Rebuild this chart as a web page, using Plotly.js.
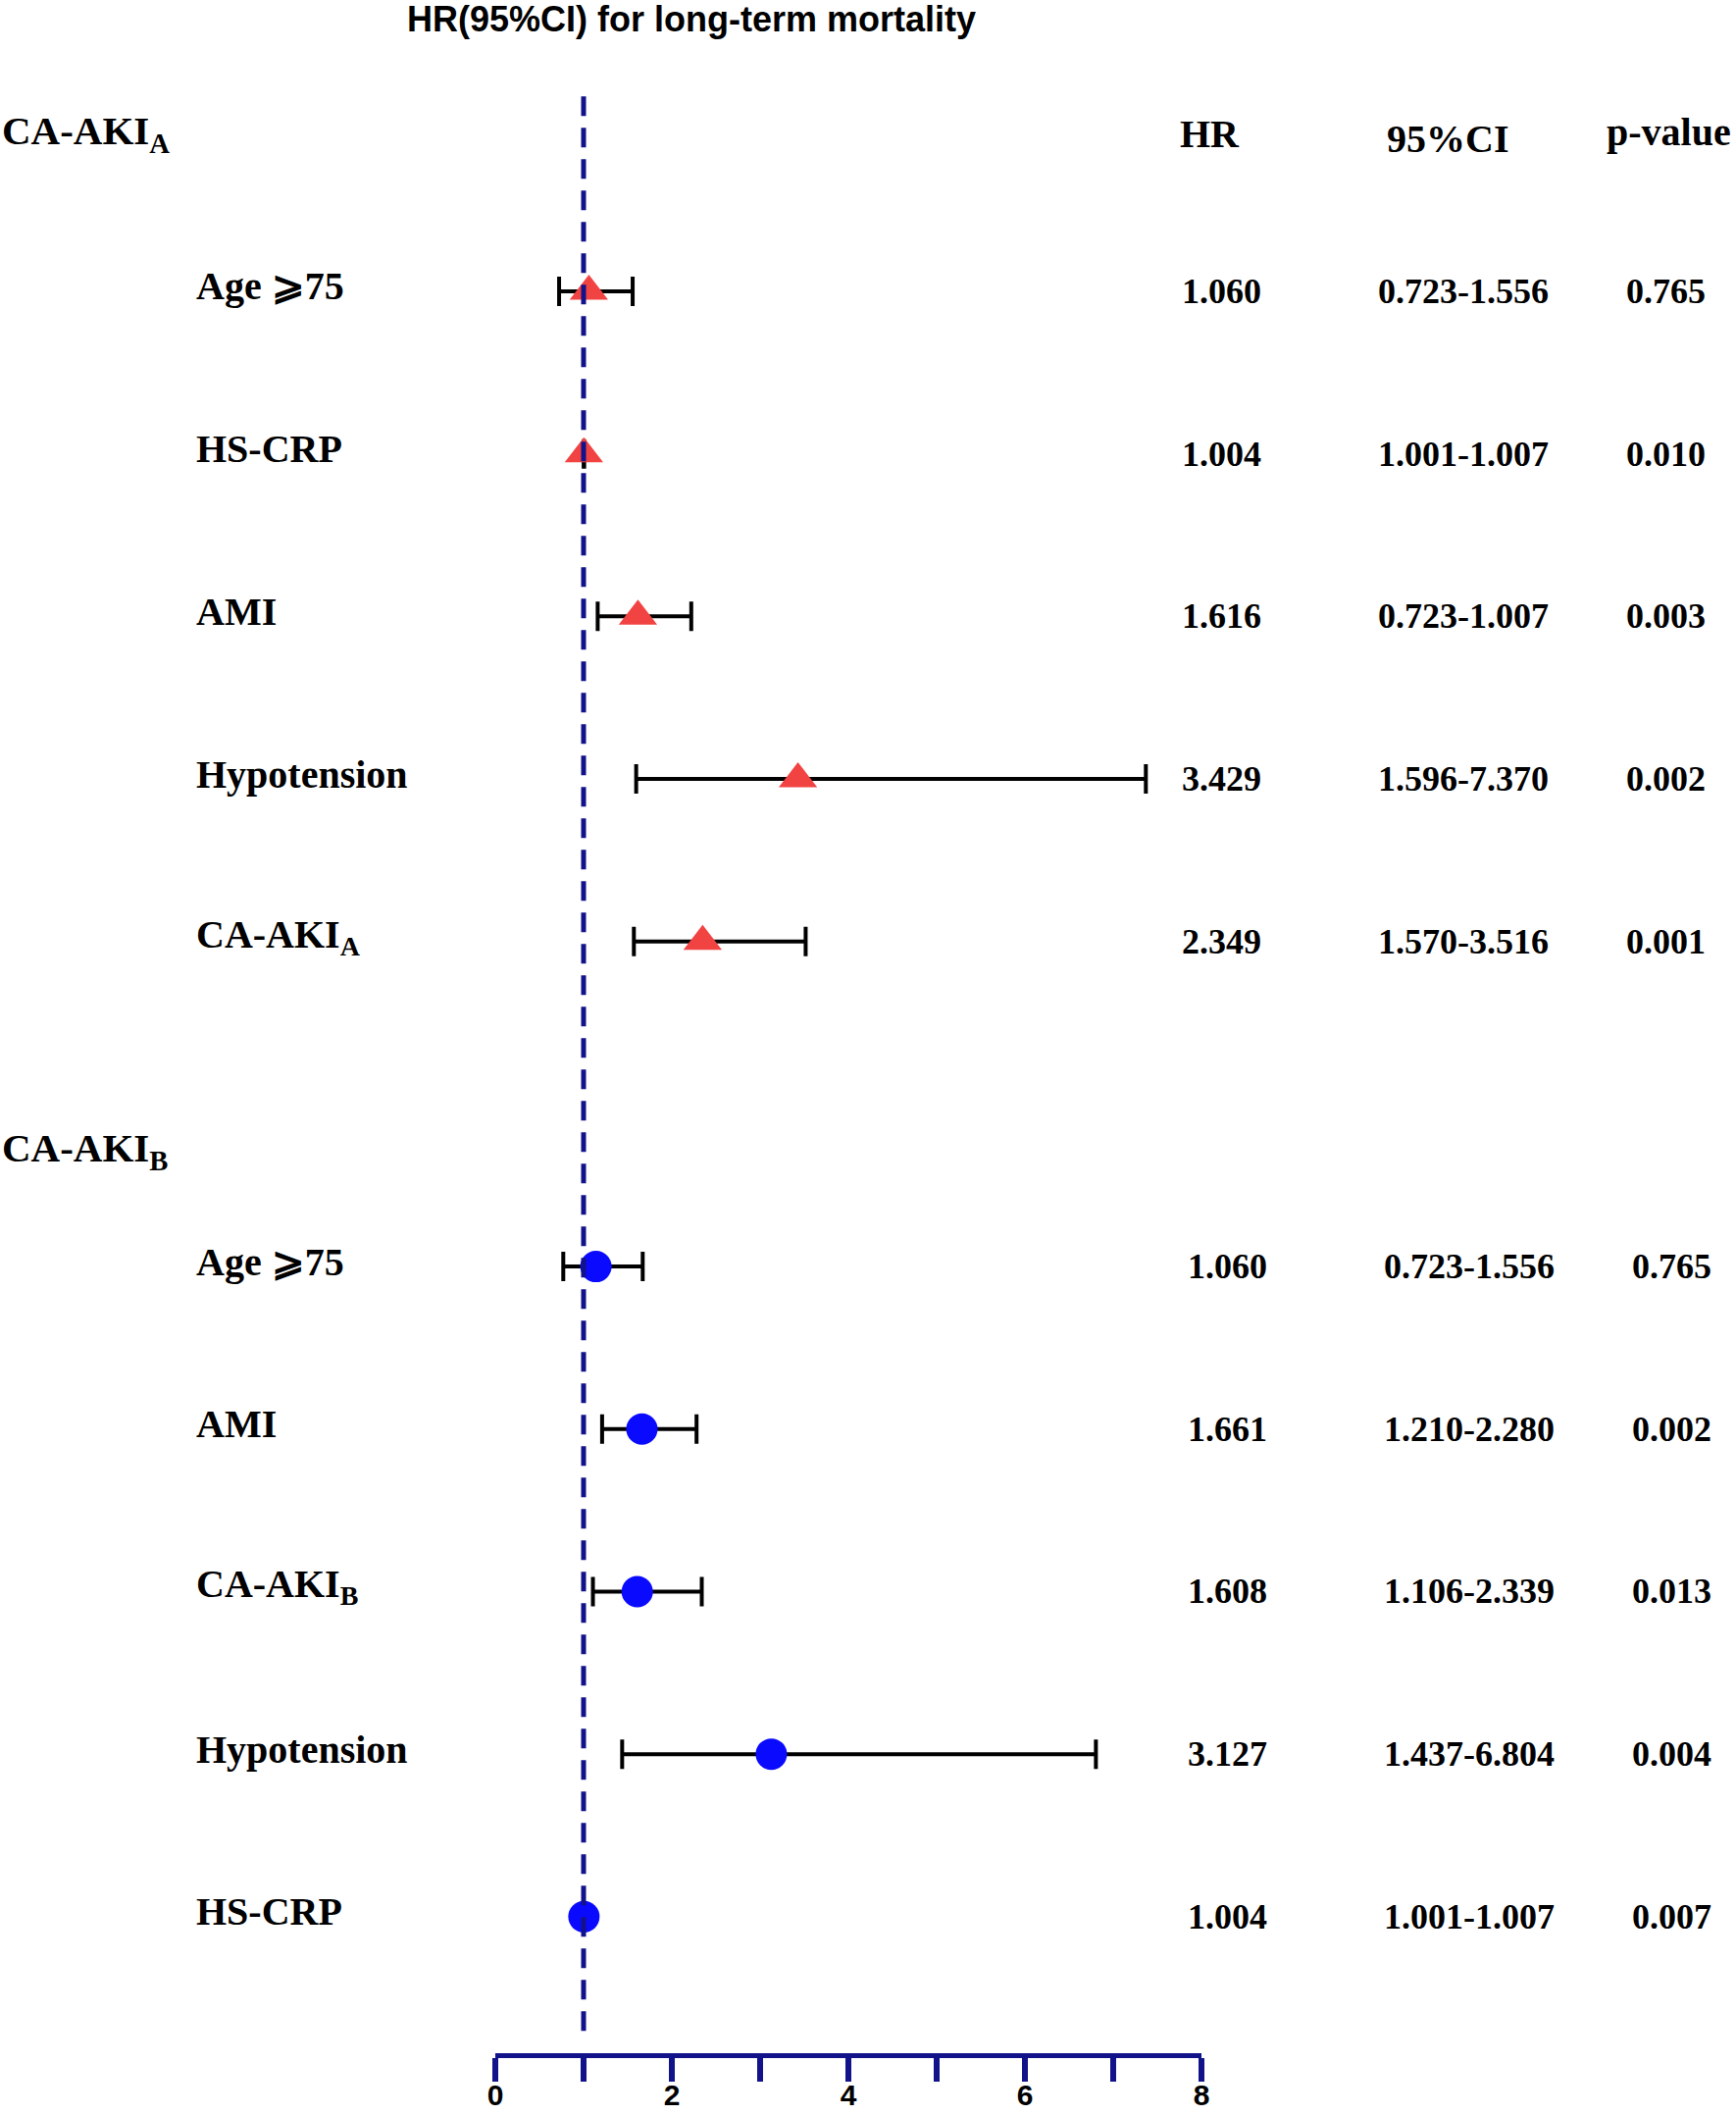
<!DOCTYPE html>
<html>
<head>
<meta charset="utf-8">
<script src="https://cdn.plot.ly/plotly-3.0.1.min.js"></script>
<style>html,body{margin:0;padding:0;background:#fff;}</style>
</head>
<body>
<div id="chart" style="width:1770px;height:2156px;"></div>
<script>
// ---------- data ----------
const groupNames = ['CA-AKI<sub>A</sub>', 'CA-AKI<sub>B</sub>'];

const labelsA = ['Age \u2A7E75', 'HS-CRP', 'AMI', 'Hypotension', 'CA-AKI<sub>A</sub>'];
const hrA     = [1.060, 1.004, 1.616, 3.429, 2.349];
const lowA    = [0.723, 1.001, 1.16, 1.596, 1.570];
const highA   = [1.556, 1.007, 2.22, 7.370, 3.516];
const hrTextA = ['1.060', '1.004', '1.616', '3.429', '2.349'];
const ciTextA = ['0.723-1.556', '1.001-1.007', '0.723-1.007', '1.596-7.370', '1.570-3.516'];
const pTextA  = ['0.765', '0.010', '0.003', '0.002', '0.001'];

const labelsB = ['Age \u2A7E75', 'AMI', 'CA-AKI<sub>B</sub>', 'Hypotension', 'HS-CRP'];
const hrB     = [1.14, 1.661, 1.608, 3.127, 1.004];
const lowB    = [0.77, 1.210, 1.106, 1.437, 1.001];
const highB   = [1.67, 2.280, 2.339, 6.804, 1.007];
const hrTextB = ['1.060', '1.661', '1.608', '3.127', '1.004'];
const ciTextB = ['0.723-1.556', '1.210-2.280', '1.106-2.339', '1.437-6.804', '1.001-1.007'];
const pTextB  = ['0.765', '0.002', '0.013', '0.004', '0.007'];

const columnHeaders = ['HR', '95%CI', 'p-value'];
const majorTicks = [0, 2, 4, 6, 8];
const minorTickStep = 1;
const refHR = 1;
const chartTitle = 'HR(95%CI) for long-term mortality';

// ---------- layout helpers ----------
const W = 1770, H = 2156;
const mL = 505, mR = 545, mT = 7, mB = 63;
const plotW = W - mL - mR;
const px = v => (v - mL) / plotW;          // pixel x -> paper x

const rowsA = labelsA.map((_, i) => i);
const rowsB = labelsB.map((_, i) => i + 6);
const headerRowA = -0.97, headerRowB = 5.29;

const serif = 'Liberation Serif, Times New Roman, serif';
const sans = 'Liberation Sans, Arial, sans-serif';
const navy = '#12128a';

function errTrace(x, lo, hi, y, sym, size, color) {
  return {
    type: 'scatter', mode: 'markers', x: x, y: y,
    marker: {symbol: sym, size: size, color: color, line: {width: 0}},
    error_x: {
      type: 'data', symmetric: false,
      array: hi.map((h, i) => h - x[i]),
      arrayminus: lo.map((l, i) => x[i] - l),
      color: '#000', thickness: 4, width: 15
    },
    showlegend: false, hoverinfo: 'skip', cliponaxis: false
  };
}

const traces = [
  errTrace(hrA, lowA, highA, rowsA, 'triangle-up', 34, '#f24343'),
  errTrace(hrB, lowB, highB, rowsB, 'circle', 32, '#0a0aff')
];

const ann = [];
function txt(x, y, text, size, anchor) {
  ann.push({xref: 'paper', yref: 'y', x: x, y: y, text: '<b>' + text + '</b>',
    showarrow: false, xanchor: anchor || 'left', yanchor: 'middle',
    font: {family: serif, size: size, color: '#000'}});
}
// group headers
txt(px(0), headerRowA, groupNames[0], 41);
txt(px(0), headerRowB, groupNames[1], 41);
// column headers
txt(px(1233), headerRowA, columnHeaders[0], 40, 'center');
txt(px(1476), headerRowA + 0.03, columnHeaders[1], 40, 'center');
txt(px(1701), headerRowA - 0.01, columnHeaders[2], 40, 'center');
// rows
function addRows(labels, rows, hrT, ciT, pT, dx) {
  labels.forEach((l, i) => {
    txt(px(198), rows[i] - 0.03, l, 40);
    txt(px(1203 + dx), rows[i], hrT[i], 36);
    txt(px(1403 + dx), rows[i], ciT[i], 36);
    txt(px(1656 + dx), rows[i], pT[i], 36);
  });
}
addRows(labelsA, rowsA, hrTextA, ciTextA, pTextA, 0);
addRows(labelsB, rowsB, hrTextB, ciTextB, pTextB, 6);

const layout = {
  width: W, height: H,
  margin: {l: mL, r: mR, t: mT, b: mB, pad: 0},
  paper_bgcolor: '#fff', plot_bgcolor: '#fff',
  title: {text: '<b>' + chartTitle + '</b>', xref: 'container', yref: 'container',
    x: 705 / W, xanchor: 'center', y: 1 - 19 / H, yanchor: 'middle',
    font: {family: sans, size: 36, color: '#000'}},
  xaxis: {
    range: [0, 8], showgrid: false, zeroline: false,
    showline: true, linecolor: navy, linewidth: 5,
    ticks: 'outside', ticklen: 24, tickwidth: 6, tickcolor: navy,
    tickvals: majorTicks, ticktext: majorTicks.map(String),
    ticklabelstandoff: -12,
    minor: {dtick: minorTickStep, tick0: 0, ticks: 'outside', ticklen: 24, tickwidth: 6, tickcolor: navy, showgrid: false},
    tickfont: {family: sans, size: 30, color: '#000', weight: 'bold'},
    fixedrange: true
  },
  yaxis: {range: [10.84, -1.75], visible: false, showgrid: false, zeroline: false, fixedrange: true},
  shapes: [{
    type: 'line', xref: 'x', yref: 'y', x0: refHR, x1: refHR, y0: -1.2, y1: 10.76,
    line: {color: navy, width: 5, dash: '20px,12px'}, layer: 'above'
  }],
  annotations: ann
};

Plotly.newPlot('chart', traces, layout, {staticPlot: true, displayModeBar: false});
</script>
</body>
</html>
